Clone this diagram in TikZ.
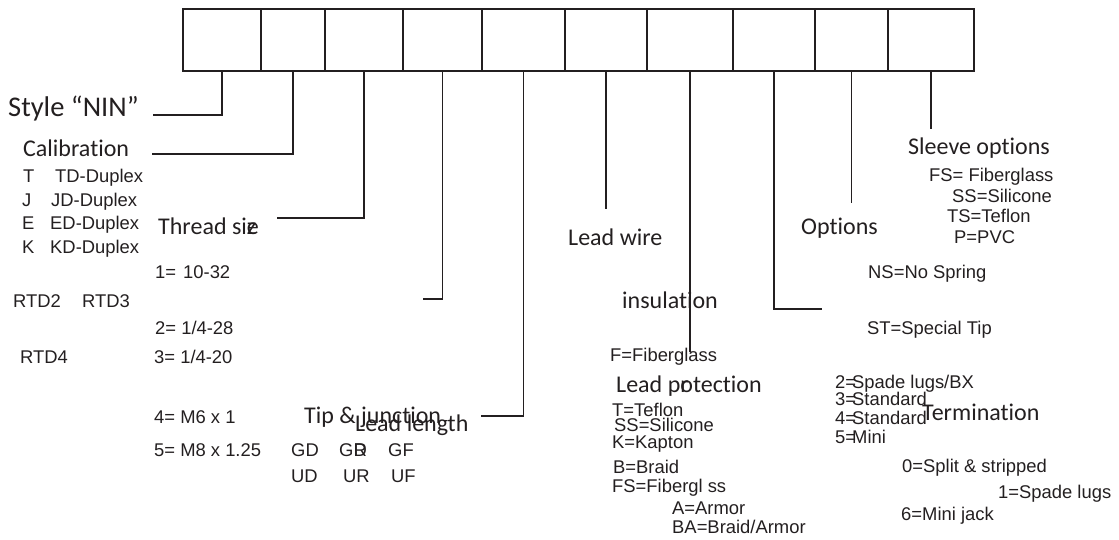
\documentclass[tikz,border=0pt]{standalone}
\usepackage{fontspec}
\setmainfont{Liberation Sans}
\newfontfamily\headfont[Ligatures=NoCommon]{Carlito}
\usetikzlibrary{positioning}
\definecolor{ink}{HTML}{231F20}

\begin{document}
\begin{tikzpicture}[x=1pt, y=-1pt,
  cell/.style={draw=ink, line width=1.6pt, anchor=north west, inner sep=0pt, minimum height=62pt},
  lead/.style={draw=ink, line width=1.6pt},
  head/.style={anchor=base west, inner sep=0pt, text=ink, font=\headfont\fontsize{24}{28}\selectfont},
  code/.style={anchor=base west, inner sep=0pt, text=ink, font=\fontsize{18.4}{20}\selectfont},
]
  \useasboundingbox (0,0) rectangle (1119,540);

  % code boxes
  \foreach \i/\l/\r in {1/182/260, 2/260/324, 3/324/402, 4/402/481, 5/481/564,
                        6/564/646, 7/646/732, 8/732/814, 9/814/887, 10/887/973}
    \node[cell, minimum width={\r-\l}] (b\i) at (\l,8) {};

  % leaders
  \coordinate (styleend) at (153,115);
  \coordinate (calend)   at (152,154);
  \coordinate (thrend)   at (277,218);
  \coordinate (rtdend)   at (423,299);
  \coordinate (lenend)   at (481,416);
  \coordinate (wireend)  at (605,209);
  \coordinate (protend)  at (692,352);
  \coordinate (termend)  at (822,309);
  \coordinate (optend)   at (850,203);
  \coordinate (slvend)   at (930,129);
  \draw[lead] (b1.south) |- (styleend);
  \draw[lead] (b2.south) |- (calend);
  \draw[lead] (b3.south) |- (thrend);
  \draw[lead] (b4.south) |- (rtdend);
  \draw[lead] (b5.south) |- (lenend);
  \draw[lead] (b6.south) -- (b6.south |- wireend);
  \draw[lead] (b7.south) -- (b7.south |- protend);
  \draw[lead] (b8.south) |- (termend);
  \draw[lead] (b9.south) -- (b9.south |- optend);
  \draw[lead] (b10.south) -- (b10.south |- slvend);

  % style & calibration
  \node[head, font=\headfont\fontsize{28.5}{32}\selectfont] (style) at (8,117) {Style “NIN”};
  \node[head] (calib) at (23,157) {Calibration};
  \node[code] (ct) at (23,182.6) {T};  \node[code] (ctd) at (55,182.6) {TD-Duplex};
  \node[code] (cj) at (22,206.6) {J};  \node[code] (cjd) at (51,206.6) {JD-Duplex};
  \node[code] (ce) at (22,229.6) {E};  \node[code] (ced) at (50,229.6) {ED-Duplex};
  \node[code] (ck) at (22,253.6) {K};  \node[code] (ckd) at (50,253.6) {KD-Duplex};
  \node[code] (rtd2) at (13,307.6) {RTD2};
  \node[code] (rtd3) at (82,307.6) {RTD3};
  \node[code] (rtd4) at (20,363.6) {RTD4};

  % thread size
  \node[head] (thread) at (158,235) {Thread si\rlap{z}e};
  \node[code] (th1) at (155,278.6) {1=\hspace{7pt}10-32};
  \node[code] (th2) at (155,334.6) {2= 1/4-28};
  \node[code] (th3) at (154,363.6) {3= 1/4-20};
  \node[code] (th4) at (154,423.6) {4= M6 x 1};
  \node[code] (th5) at (154,456.6) {5= M8 x 1.25};

  % tip & junction, lead length
  \node[head] (tip) at (304,423) {Tip \& junction};
  \node[head] (length) at (355,431) {Lead length};
  \node[code] (gd) at (291,456.6) {GD};
  \node[code] (gr) at (339,456.6) {G\rlap{R}D};
  \node[code] (gf) at (388,456.6) {GF};
  \node[code] (ud) at (291,482.6) {UD};
  \node[code] (ur) at (343,482.6) {UR};
  \node[code] (uf) at (391,482.6) {UF};

  % lead wire
  \node[head] (wire) at (568,246) {Lead wire};
  \node[head] (insul) at (622,308) {insulation};
  \node[code] (fib) at (610,361.6) {F=Fiberglass};
  \node[head] (prot) at (616,392) {Lead p\rlap{r}otection};
  \node[code] (tef) at (612,416.6) {T=Teflon};
  \node[code] (sil) at (614,431.6) {SS=Silicone};
  \node[code] (kap) at (612,448.6) {K=Kapton};
  \node[code] (brd) at (613,473.6) {B=Braid};
  \node[code] (fsg) at (612,492.6) {FS=Fibergl ss};
  \node[code] (arm) at (672,514.6) {A=Armor};
  \node[code] (bar) at (672,533.6) {BA=Braid/Armor};

  % options
  \node[head] (opt) at (801,234) {Options};
  \node[code] (ns) at (868,278.6) {NS=No Spring};
  \node[code] (st) at (867,334.6) {ST=Special Tip};

  % sleeve options
  \node[head] (sleeve) at (908,155) {Sleeve options};
  \node[code] (sfs) at (929,181.6) {FS= Fiberglass};
  \node[code] (sss) at (952,202.6) {SS=Silicone};
  \node[code] (sts) at (947,222.6) {TS=Teflon};
  \node[code] (spv) at (954,243.6) {P=PVC};

  % termination
  \node[code] (t2) at (835,388.6) {2=\kern-4pt Spade lugs/BX};
  \node[code] (t3) at (835,405.6) {3=\kern-4pt Standard};
  \node[code] (t4) at (835,424.6) {4=\kern-4pt Standard};
  \node[code] (t5) at (835,443.6) {5=\kern-4pt Mini};
  \node[head] (term) at (922,420) {Termination};
  \node[code] (t0) at (902,472.6) {0=Split \& stripped};
  \node[code] (t1) at (998,498.6) {1=Spade lugs};
  \node[code] (t6) at (901,520.6) {6=Mini jack};
\end{tikzpicture}
\end{document}
